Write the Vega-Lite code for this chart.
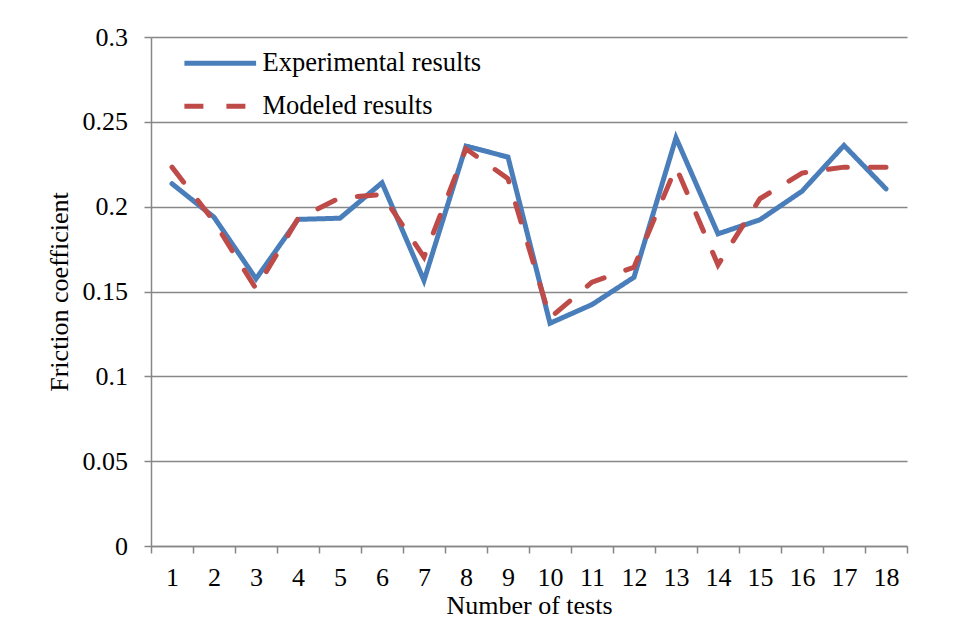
{
  "$schema": "https://vega.github.io/schema/vega-lite/v6.json",
  "autosize": "none",
  "width": 756,
  "height": 509,
  "padding": {"left": 151, "top": 37, "right": 49, "bottom": 73},
  "background": "white",
  "config": {
    "view": {"stroke": null},
    "font": "Liberation Serif",
    "axis": {
      "labelFont": "Liberation Serif",
      "labelFontSize": 26,
      "labelColor": "black",
      "titleFont": "Liberation Serif",
      "titleFontSize": 26,
      "titleFontWeight": "normal",
      "titleColor": "black",
      "domainColor": "#878787",
      "domainWidth": 1.5,
      "tickColor": "#878787",
      "tickWidth": 1.5,
      "tickSize": 7,
      "gridColor": "#878787",
      "gridWidth": 1.4
    }
  },
  "data": {
    "values": [
      {"test": "1", "series": "Experimental results", "value": 0.2135},
      {"test": "2", "series": "Experimental results", "value": 0.1938},
      {"test": "3", "series": "Experimental results", "value": 0.1575},
      {"test": "4", "series": "Experimental results", "value": 0.1925},
      {"test": "5", "series": "Experimental results", "value": 0.1932},
      {"test": "6", "series": "Experimental results", "value": 0.2141},
      {"test": "7", "series": "Experimental results", "value": 0.1565},
      {"test": "8", "series": "Experimental results", "value": 0.2357},
      {"test": "9", "series": "Experimental results", "value": 0.2292},
      {"test": "10", "series": "Experimental results", "value": 0.1313},
      {"test": "11", "series": "Experimental results", "value": 0.1423},
      {"test": "12", "series": "Experimental results", "value": 0.1584},
      {"test": "13", "series": "Experimental results", "value": 0.2406},
      {"test": "14", "series": "Experimental results", "value": 0.184},
      {"test": "15", "series": "Experimental results", "value": 0.1923},
      {"test": "16", "series": "Experimental results", "value": 0.2091},
      {"test": "17", "series": "Experimental results", "value": 0.2361},
      {"test": "18", "series": "Experimental results", "value": 0.2105},
      {"test": "1", "series": "Modeled results", "value": 0.2233},
      {"test": "2", "series": "Modeled results", "value": 0.1913},
      {"test": "3", "series": "Modeled results", "value": 0.1516},
      {"test": "4", "series": "Modeled results", "value": 0.1929},
      {"test": "5", "series": "Modeled results", "value": 0.2052},
      {"test": "6", "series": "Modeled results", "value": 0.2072},
      {"test": "7", "series": "Modeled results", "value": 0.1703},
      {"test": "8", "series": "Modeled results", "value": 0.2341},
      {"test": "9", "series": "Modeled results", "value": 0.2165},
      {"test": "10", "series": "Modeled results", "value": 0.1345},
      {"test": "11", "series": "Modeled results", "value": 0.1555},
      {"test": "12", "series": "Modeled results", "value": 0.1643},
      {"test": "13", "series": "Modeled results", "value": 0.2233},
      {"test": "14", "series": "Modeled results", "value": 0.1657},
      {"test": "15", "series": "Modeled results", "value": 0.2047},
      {"test": "16", "series": "Modeled results", "value": 0.2198},
      {"test": "17", "series": "Modeled results", "value": 0.2233},
      {"test": "18", "series": "Modeled results", "value": 0.2233}
    ]
  },
  "mark": {"type": "line", "strokeWidth": 5, "strokeCap": "round", "strokeJoin": "miter"},
  "encoding": {
    "x": {
      "field": "test",
      "type": "ordinal",
      "sort": null,
      "scale": {"type": "band", "paddingInner": 0, "paddingOuter": 0},
      "axis": {
        "title": "Number of tests",
        "tickBand": "extent",
        "labelAngle": 0,
        "labelPadding": 11,
        "titlePadding": 2,
        "grid": false
      }
    },
    "y": {
      "field": "value",
      "type": "quantitative",
      "scale": {"domain": [0, 0.3], "nice": false, "zero": true},
      "axis": {
        "title": "Friction coefficient",
        "values": [0, 0.05, 0.1, 0.15, 0.2, 0.25, 0.3],
        "format": "~g",
        "labelPadding": 16.5,
        "titlePadding": 10,
        "grid": true
      }
    },
    "color": {
      "field": "series",
      "type": "nominal",
      "scale": {"domain": ["Experimental results", "Modeled results"], "range": ["#4a7ebb", "#be4b48"]},
      "legend": {
        "title": null,
        "orient": "none",
        "legendX": 56,
        "legendY": 13,
        "padding": 0,
        "rowPadding": 16,
        "symbolType": "M-3.585,0H3.585",
        "symbolSize": 400,
        "symbolStrokeWidth": 5,
        "labelFont": "Liberation Serif",
        "labelFontSize": 26.5,
        "labelColor": "black",
        "labelOffset": 29,
        "labelLimit": 400
      }
    },
    "strokeDash": {
      "field": "series",
      "type": "nominal",
      "scale": {"domain": ["Experimental results", "Modeled results"], "range": [[1, 0], [19, 23]]},
      "legend": {
        "title": null,
        "orient": "none",
        "legendX": 56,
        "legendY": 13,
        "padding": 0,
        "rowPadding": 16,
        "symbolType": "M-3.585,0H3.585",
        "symbolSize": 400,
        "symbolStrokeWidth": 5,
        "labelFont": "Liberation Serif",
        "labelFontSize": 26.5,
        "labelColor": "black",
        "labelOffset": 29,
        "labelLimit": 400
      }
    }
  }
}
